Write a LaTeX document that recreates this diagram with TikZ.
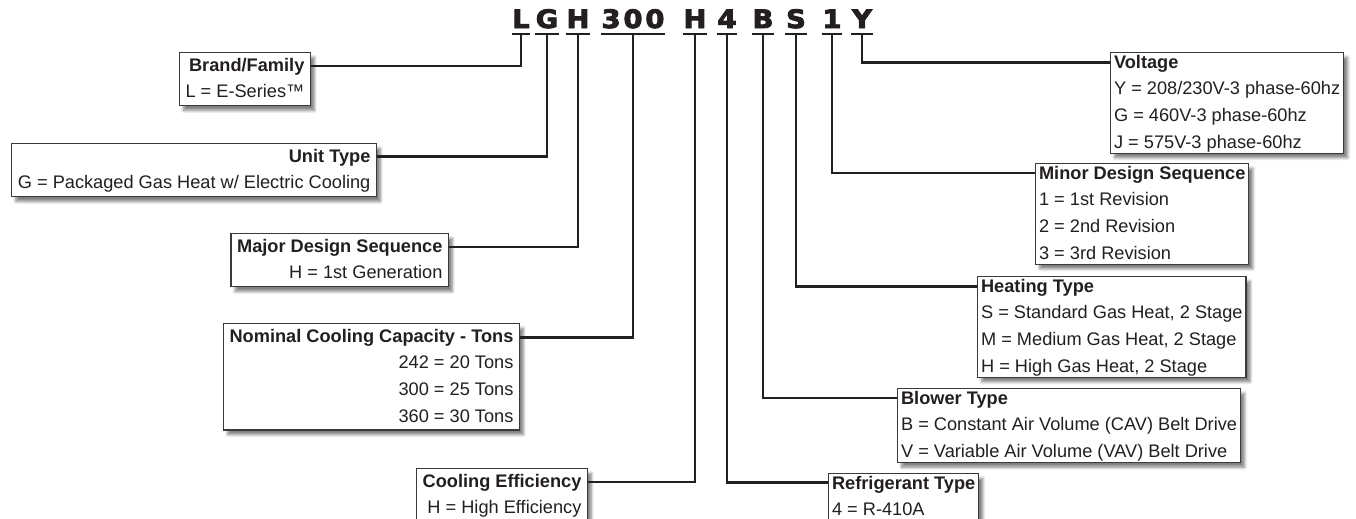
\documentclass[tikz,border=0pt]{standalone}
\usepackage{fontspec}
\setmainfont{Liberation Sans}
\newfontfamily\codefont[BoldFeatures={FakeBold=3.5}]{DejaVu Sans}
\usetikzlibrary{positioning}
\usetikzlibrary{shadows.blur}
\definecolor{ink}{HTML}{231F20}
\definecolor{frame}{HTML}{3A3A3A}
\newcommand{\keytitle}[1]{\strut\textbf{#1}}

\begin{document}
\begin{tikzpicture}[
    x=0.75pt, y=-0.75pt,
    every node/.style={text=ink},
    code/.style={font=\codefont\bfseries\fontsize{19pt}{20pt}\selectfont, anchor=base, inner xsep=0.3pt, inner ysep=0pt, text depth=4.5pt, xscale=1.08},
    uline/.style={draw=ink, line width=1.8pt},
    link/.style={draw=ink, line width=2pt},
    box/.style={draw=frame, line width=0.9pt, fill=white, inner ysep=0pt,
      font=\fontsize{13.65pt}{19.95pt}\selectfont,
      execute at end node=\strut,
      blur shadow={shadow xshift=3pt, shadow yshift=-3.5pt, shadow blur steps=6, shadow opacity=50}},
    lbox/.style={box, align=right, inner xsep=4.5pt, anchor=north east},
    rbox/.style={box, align=left, inner xsep=2.6pt, inner ysep=-2.2pt, anchor=north west}
  ]
  \useasboundingbox (0,0) rectangle (1356,518);

  % model number
  \node[code] (cL)   at (521,28) {L};
  \node[code] (cG)   at (547,28) {G};
  \node[code] (cH)   at (578,28) {H};
  \node[code] (cCap) at (633,28) {3\kern2pt0\kern2pt0};
  \node[code] (cEff) at (695,28) {H};
  \node[code] (cRef) at (727,28) {4};
  \node[code] (cBlo) at (763,28) {B};
  \node[code] (cHt)  at (796,28) {S};
  \node[code] (cMin) at (832,28) {1};
  \node[code] (cV)   at (862,28) {Y};
  \foreach \c in {cL,cG,cH,cCap,cEff,cRef,cBlo,cHt,cMin,cV}
    \draw[uline] (\c.south west) -- (\c.south east);

  % left side
  \node[lbox] (brand)   at (311,52)  {\keytitle{Brand/Family}\\L = E-Series™};
  \node[lbox] (unit)    at (377,143) {\keytitle{Unit Type}\\G = Packaged Gas Heat w/ Electric Cooling};
  \node[lbox] (major)   at (449,233) {\keytitle{Major Design Sequence}\\H = 1st Generation};
  \node[lbox] (nominal) at (520,323) {\keytitle{Nominal Cooling Capacity - Tons}\\242 = 20 Tons\\300 = 25 Tons\\360 = 30 Tons};
  \node[lbox] (cooling) at (588,468) {\keytitle{Cooling Efficiency}\\H = High Efficiency};

  % right side
  \node[rbox] (voltage) at (1110,52) {\keytitle{Voltage}\\Y = 208/230V-3 phase-60hz\\G = 460V-3 phase-60hz\\J = 575V-3 phase-60hz};
  \node[rbox] (minor)   at (1035,163) {\keytitle{Minor Design Sequence}\\1 = 1st Revision\\2 = 2nd Revision\\3 = 3rd Revision};
  \node[rbox] (heating) at (977,276) {\keytitle{Heating Type}\\S = Standard Gas Heat, 2 Stage\\M = Medium Gas Heat, 2 Stage\\H = High Gas Heat, 2 Stage};
  \node[rbox] (blower)  at (897,388) {\keytitle{Blower Type}\\B = Constant Air Volume (CAV) Belt Drive\\V = Variable Air Volume (VAV) Belt Drive};
  \node[rbox] (refrig)  at (828,473) {\keytitle{Refrigerant Type}\\4 = R-410A};

  % connectors
  \draw[link] (cL.south)   |- ([yshift=-10.5pt]brand.north east);
  \draw[link] (cG.south)   |- ([yshift=-10pt]unit.north east);
  \draw[link] (cH.south)   |- ([yshift=-10.5pt]major.north east);
  \draw[link] (cCap.south) |- ([yshift=-11pt]nominal.north east);
  \draw[link] (cEff.south) |- ([yshift=-10.5pt]cooling.north east);
  \draw[link] (cRef.south) |- ([yshift=-7pt]refrig.north west);
  \draw[link] (cBlo.south) |- ([yshift=-7.5pt]blower.north west);
  \draw[link] (cHt.south)  |- ([yshift=-8pt]heating.north west);
  \draw[link] (cMin.south) |- ([yshift=-7.5pt]minor.north west);
  \draw[link] (cV.south)   |- ([yshift=-8pt]voltage.north west);
\end{tikzpicture}
\end{document}
